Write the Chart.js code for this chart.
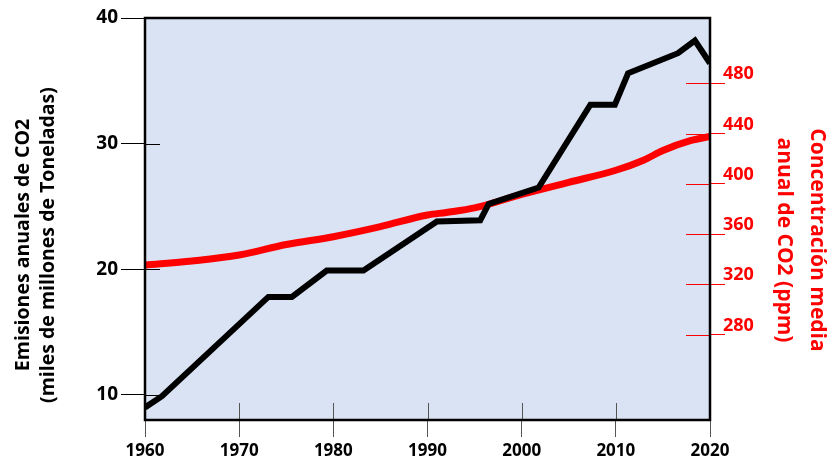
<!DOCTYPE html>
<html>
<head>
<meta charset="utf-8">
<script src="https://cdn.jsdelivr.net/npm/chart.js@4.4.1/dist/chart.umd.min.js"></script>
<style>
  body { margin: 0; background: #fff; }
  #wrap { width: 839px; height: 474px; position: relative; }
</style>
</head>
<body>
<div id="wrap"><canvas id="myChart"></canvas></div>
<script>
// Emisiones anuales (miles de millones de toneladas)
const emisionYears = [1960, 1961.8, 1973.1, 1975.6, 1979.3, 1983.2, 1991.0, 1995.6, 1996.5, 2001.8, 2007.3, 2009.9, 2011.3, 2016.6, 2018.4, 2020];
const emisionValues = [9.0, 9.9, 17.8, 17.8, 19.9, 19.9, 23.8, 23.9, 25.2, 26.5, 33.1, 33.1, 35.6, 37.2, 38.2, 36.4];

// Concentración media anual de CO2 (ppm)
const co2Years = [1960, 1965, 1970, 1975, 1980, 1985, 1990, 1992, 1995, 2000, 2005, 2010, 2013, 2015, 2018, 2020];
const co2Values = [335.4, 338.6, 343.3, 351.7, 357.9, 365.9, 375.2, 377.2, 380.8, 391.6, 401.2, 410.8, 419.0, 426.5, 434.5, 437.7];

// Ticks
const yearTicks = [1960, 1970, 1980, 1990, 2000, 2010, 2020];
const leftTicks = [10, 20, 30, 40];
const rightTicks = [280, 320, 360, 400, 440, 480];

const leftTitle = ['Emisiones anuales de CO2', '(miles de millones de Toneladas)'];
const rightTitle = ['Concentración media', 'anual de CO2 (ppm)'];

const FONT = '"Open Sans", Lato, sans-serif';

function toPoints(xs, ys) {
  return xs.map((x, i) => ({ x: x, y: ys[i] }));
}

// background, inner tick marks and the plot frame
const plotBox = {
  id: 'plotBox',
  beforeDraw(chart) {
    const { ctx, chartArea: a } = chart;
    ctx.save();
    ctx.fillStyle = '#dae3f3';
    ctx.fillRect(a.left, a.top, a.right - a.left, a.bottom - a.top);
    ctx.restore();
  },
  beforeDatasetsDraw(chart) {
    const { ctx, chartArea: a, scales } = chart;
    ctx.save();
    ctx.lineWidth = 1;
    ctx.strokeStyle = '#000';
    scales.y.ticks.forEach(t => {
      const py = Math.round(scales.y.getPixelForValue(t.value)) + 0.5;
      ctx.beginPath(); ctx.moveTo(a.left, py); ctx.lineTo(a.left + 15, py); ctx.stroke();
    });
    ctx.strokeStyle = '#ff0000';
    scales.y1.ticks.forEach(t => {
      const py = Math.round(scales.y1.getPixelForValue(t.value)) + 0.5;
      ctx.beginPath(); ctx.moveTo(a.right - 24, py); ctx.lineTo(a.right, py); ctx.stroke();
    });
    ctx.strokeStyle = '#555';
    scales.x.ticks.forEach(t => {
      const px = Math.round(scales.x.getPixelForValue(t.value)) + 0.5;
      ctx.beginPath(); ctx.moveTo(px, a.bottom - 17); ctx.lineTo(px, a.bottom); ctx.stroke();
    });
    ctx.restore();
  },
  afterDatasetsDraw(chart) {
    const { ctx, chartArea: a } = chart;
    ctx.save();
    ctx.lineWidth = 2.5;
    ctx.strokeStyle = '#000';
    ctx.strokeRect(a.left, a.top, a.right - a.left, a.bottom - a.top);
    ctx.restore();
  }
};

// rotated axis titles
const axisTitles = {
  id: 'axisTitles',
  afterDraw(chart) {
    const ctx = chart.ctx;
    ctx.save();
    ctx.textAlign = 'center';
    ctx.textBaseline = 'middle';
    ctx.font = 'bold 19.5px ' + FONT;
    ctx.fillStyle = '#000';
    ctx.translate(0, 245);
    ctx.rotate(-Math.PI / 2);
    ctx.fillText(leftTitle[0], 0, 23);
    ctx.fillText(leftTitle[1], 0, 48);
    ctx.restore();

    ctx.save();
    ctx.textAlign = 'center';
    ctx.textBaseline = 'middle';
    ctx.font = 'bold 21px ' + FONT;
    ctx.fillStyle = '#ff0000';
    ctx.translate(0, 240);
    ctx.rotate(Math.PI / 2);
    ctx.fillText(rightTitle[0], 0, -817);
    ctx.fillText(rightTitle[1], 0, -784);
    ctx.restore();
  }
};

const ctx = document.getElementById('myChart').getContext('2d');
new Chart(ctx, {
  type: 'line',
  data: {
    datasets: [{
      label: 'Emisiones',
      data: toPoints(emisionYears, emisionValues),
      yAxisID: 'y',
      borderColor: '#000',
      borderWidth: 6,
      borderJoinStyle: 'miter',
      tension: 0,
      pointRadius: 0
    }, {
      label: 'CO2',
      data: toPoints(co2Years, co2Values),
      yAxisID: 'y1',
      borderColor: '#ff0000',
      borderWidth: 7,
      cubicInterpolationMode: 'monotone',
      pointRadius: 0
    }]
  },
  options: {
    responsive: true,
    maintainAspectRatio: false,
    animation: false,
    layout: { padding: { top: 18, left: 0, right: 0, bottom: 0 } },
    plugins: { legend: { display: false }, tooltip: { enabled: false } },
    scales: {
      x: {
        type: 'linear',
        min: 1960,
        max: 2020,
        afterBuildTicks: s => { s.ticks = yearTicks.map(v => ({ value: v })); },
        afterFit: s => { s.height = 54; },
        border: { display: false },
        grid: { drawOnChartArea: false, drawTicks: true, tickLength: 17, color: '#555' },
        ticks: {
          padding: 4,
          color: '#000',
          maxRotation: 0,
          font: { family: FONT, size: 17, weight: 'bold' },
          callback: v => String(v)
        }
      },
      y: {
        position: 'left',
        min: 8,
        max: 40,
        afterBuildTicks: s => { s.ticks = leftTicks.map(v => ({ value: v })); },
        afterFit: s => { s.width = 145; },
        border: { display: false },
        grid: { drawOnChartArea: false, drawTicks: true, tickLength: 24, color: '#000' },
        ticks: {
          padding: 3,
          color: '#000',
          font: { family: FONT, size: 19, weight: 'bold' }
        }
      },
      y1: {
        position: 'right',
        min: 212,
        max: 532,
        afterBuildTicks: s => { s.ticks = rightTicks.map(v => ({ value: v })); },
        afterFit: s => { s.width = 129; },
        border: { display: false },
        grid: { drawOnChartArea: false, drawTicks: true, tickLength: 15, color: '#ff0000' },
        ticks: {
          padding: -2,
          labelOffset: -9,
          color: '#ff0000',
          font: { family: FONT, size: 18, weight: 'bold' }
        }
      }
    }
  },
  plugins: [plotBox, axisTitles]
});
</script>
</body>
</html>
